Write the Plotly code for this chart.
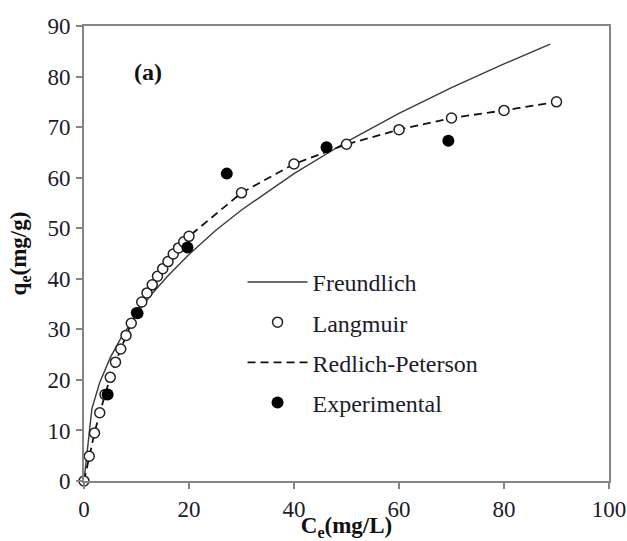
import plotly.graph_objects as go

# Isotherm data: equilibrium concentration Ce (mg/L) vs uptake qe (mg/g)
ce_langmuir = [0, 1, 2, 3, 4, 5, 6, 7, 8, 9, 10, 11, 12, 13, 14, 15, 16, 17, 18, 19, 20,
               30, 40, 50, 60, 70, 80, 90]
qe_langmuir = [0, 4.9, 9.5, 13.5, 17.1, 20.5, 23.5, 26.1, 28.8, 31.2, 33.3, 35.4, 37.2, 38.8,
               40.5, 42.0, 43.4, 44.9, 46.1, 47.3, 48.4, 57.0, 62.7, 66.6, 69.5, 71.8, 73.3, 75.0]

ce_rp = [0, 1, 2, 3, 4, 5, 6, 7, 8, 9, 10, 11, 12, 13, 14, 15, 16, 17, 18, 19, 20,
         30, 40, 50, 60, 70, 80, 90]
qe_rp = [0, 4.9, 9.5, 13.5, 17.1, 20.5, 23.5, 26.1, 28.8, 31.2, 33.3, 35.4, 37.2, 38.8,
         40.5, 42.0, 43.4, 44.9, 46.1, 47.3, 48.4, 57.0, 62.7, 66.6, 69.5, 71.8, 73.3, 75.0]

ce_freundlich = [0, 1.5, 3, 5, 7, 10, 13, 16, 20, 25, 30, 40, 50, 60, 70, 80, 88.8]
qe_freundlich = [0, 14.3, 19.5, 24.4, 28.2, 33.0, 37.1, 40.6, 44.8, 49.5, 53.6, 60.8, 67.1,
                 72.7, 77.8, 82.5, 86.4]

ce_exp = [4.5, 10.2, 19.7, 27.2, 46.2, 69.4]
qe_exp = [17.1, 33.2, 46.2, 60.8, 66.0, 67.3]

x_ticks = [0, 20, 40, 60, 80, 100]
y_ticks = [0, 10, 20, 30, 40, 50, 60, 70, 80, 90]

SERIF = "Liberation Serif, Times New Roman, serif"
AXIS_GREY = "#858585"
TEXT = "#1b1b2b"

fig = go.Figure()

fig.add_trace(go.Scatter(
    x=ce_freundlich, y=qe_freundlich, mode="lines", name="Freundlich",
    line=dict(color="#3a3a3a", width=1.4), legendrank=1, legendgroup="f",
))
fig.add_trace(go.Scatter(
    x=ce_rp, y=qe_rp, mode="lines", name="Redlich-Peterson",
    line=dict(color="#111111", width=1.8, dash="8px,5px"), legendrank=3, legendgroup="rp",
))
fig.add_trace(go.Scatter(
    x=ce_langmuir, y=qe_langmuir, mode="markers", name="Langmuir",
    marker=dict(symbol="circle", size=10, color="white", line=dict(color="#222222", width=1.5)),
    legendrank=2, legendgroup="l", cliponaxis=False,
))
fig.add_trace(go.Scatter(
    x=ce_exp, y=qe_exp, mode="markers", name="Experimental",
    marker=dict(symbol="circle", size=12, color="black", line=dict(width=0)),
    legendrank=4, legendgroup="e", cliponaxis=False,
))

axis_common = dict(
    showline=True, linecolor=AXIS_GREY, linewidth=1.8, mirror=True,
    ticks="outside", ticklen=6, tickwidth=1.5, tickcolor=AXIS_GREY,
    showgrid=False, zeroline=False, automargin=False,
    tickfont=dict(family=SERIF, size=23, color=TEXT),
)

fig.update_xaxes(
    range=[0, 100], tickvals=x_ticks, **axis_common,
    title=dict(text="<b>C<sub>e</sub>(mg/L)</b>", font=dict(family=SERIF, size=23, color="#111111"),
               standoff=7),
)
fig.update_yaxes(
    range=[0, 90], tickvals=y_ticks, ticklabelstandoff=1, **axis_common,
    title=dict(text="<b>q<sub>e</sub>(mg/g)</b>", font=dict(family=SERIF, size=23, color="#111111"),
               standoff=14),
)

fig.add_annotation(
    x=12.2, y=80.9, xref="x", yref="y", text="<b>(a)</b>", showarrow=False,
    font=dict(family=SERIF, size=24, color="#111111"),
)

fig.update_layout(
    width=627, height=541,
    margin=dict(l=84, r=18, t=26, b=60),
    paper_bgcolor="white", plot_bgcolor="white",
    legend=dict(
        x=0.302, y=0.486, xanchor="left", yanchor="top",
        bgcolor="rgba(0,0,0,0)", itemwidth=60, tracegroupgap=6,
        font=dict(family=SERIF, size=24, color=TEXT),
    ),
    showlegend=True,
)

fig.write_html("out.html")
